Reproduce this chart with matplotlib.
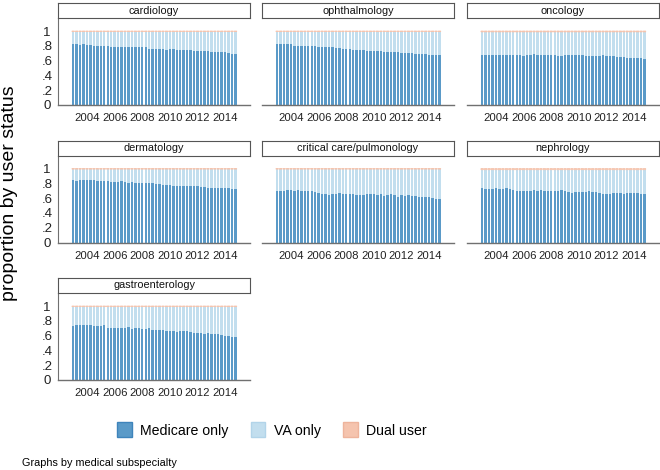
import matplotlib
matplotlib.use("Agg")
import matplotlib.pyplot as plt
from matplotlib.patches import Patch
import numpy as np

plt.rcParams['font.family'] = ['Liberation Sans', 'DejaVu Sans']

# quarters 2003q1 .. 2014q4
years = list(range(2003, 2015))
quarters = [1, 2, 3, 4]

panels = ['cardiology', 'ophthalmology', 'oncology', 'dermatology',
          'critical care/pulmonology', 'nephrology', 'gastroenterology']

# share of Medicare-only users per quarter
cardiology = [.82, .82, .81, .82, .81, .81, .80, .80, .80, .80, .80, .78,
              .79, .79, .79, .78, .79, .79, .78, .78, .79, .78, .76, .76,
              .76, .76, .755, .75, .76, .755, .75, .75, .745, .745, .74, .73,
              .73, .725, .725, .725, .72, .72, .72, .72, .715, .70, .695, .695]
ophthalmology = [.82, .82, .83, .83, .82, .80, .80, .80, .80, .80, .80, .80,
                 .79, .78, .78, .78, .78, .77, .77, .76, .76, .755, .75, .75,
                 .745, .74, .735, .73, .73, .725, .725, .72, .72, .71, .71, .71,
                 .70, .70, .70, .70, .695, .69, .69, .685, .68, .675, .675, .67]
oncology = [.67, .68, .67, .68, .68, .67, .68, .68, .68, .68, .67, .67,
            .66, .68, .68, .69, .68, .68, .68, .67, .67, .67, .66, .66,
            .68, .67, .67, .67, .67, .67, .66, .66, .66, .66, .66, .67,
            .66, .66, .66, .65, .65, .65, .64, .64, .64, .63, .63, .62]
dermatology = [.84, .83, .84, .84, .85, .84, .84, .83, .83, .83, .83, .82,
               .82, .82, .83, .82, .81, .82, .81, .81, .81, .81, .80, .80,
               .79, .79, .78, .78, .78, .77, .77, .77, .77, .77, .76, .76,
               .76, .755, .75, .74, .74, .74, .735, .735, .73, .73, .72, .72]
critical_care = [.70, .70, .69, .71, .71, .70, .71, .70, .70, .69, .69, .68,
                 .67, .66, .65, .64, .66, .66, .67, .66, .66, .66, .66, .64,
                 .64, .64, .65, .65, .65, .64, .65, .63, .64, .65, .64, .62,
                 .64, .63, .64, .63, .63, .61, .62, .61, .61, .60, .59, .585]
nephrology = [.73, .72, .72, .72, .73, .72, .72, .74, .72, .71, .70, .70,
              .69, .69, .70, .71, .70, .71, .70, .70, .70, .70, .69, .71,
              .70, .68, .67, .68, .68, .68, .68, .69, .68, .68, .67, .66,
              .66, .66, .67, .67, .67, .66, .67, .67, .67, .67, .66, .66]
gastroenterology = [.73, .74, .74, .75, .74, .74, .73, .73, .73, .74, .70, .70,
                    .70, .70, .70, .70, .71, .69, .70, .70, .69, .69, .70, .67,
                    .68, .68, .68, .66, .66, .66, .65, .66, .66, .66, .65, .64,
                    .64, .63, .62, .63, .62, .62, .62, .61, .60, .60, .58, .58]

medicare = [cardiology, ophthalmology, oncology, dermatology,
            critical_care, nephrology, gastroenterology]
# dual-user share (thin band at top), per panel
dual = [0.008, 0.008, 0.012, 0.008, 0.008, 0.016, 0.008]

year_ticks = [2004, 2006, 2008, 2010, 2012, 2014]
y_ticks = [0, .2, .4, .6, .8, 1]
y_ticklabels = ['0', '.2', '.4', '.6', '.8', '1']

c_med, e_med = '#5a9ac8', '#3e84bb'
c_va, e_va = '#c2deee', '#b2d4e9'
c_dual, e_dual = '#f5c4ae', '#eeb49c'

W, H = 660, 470
fig = plt.figure(figsize=(6.6, 4.7), dpi=100)

col_x = [58, 262, 467]
col_w = 192
row_top = [3, 140.5, 278]
strip_h = 15
plot_h = 87

x = np.array([y + (q - 1) / 4 for y in years for q in quarters])
bw = 0.175

for i, name in enumerate(panels):
    r, c = divmod(i, 3)
    x0 = col_x[c]
    top = row_top[r] + strip_h
    ax = fig.add_axes([x0 / W, 1 - (top + plot_h) / H, col_w / W, plot_h / H])
    med = np.array(medicare[i])
    d = dual[i]
    va = 1 - med - d
    ax.bar(x, med, width=bw, color=c_med, linewidth=0, antialiased=False)
    ax.bar(x, va, width=bw, bottom=med, color=c_va, linewidth=0, antialiased=False)
    ax.bar(x, d, width=bw, bottom=med + va, color=c_dual, linewidth=0.6,
           edgecolor=c_dual, snap=False)
    ax.set_xlim(2001.9, 2015.8)
    ax.set_ylim(0, 1.176)
    ax.set_xticks(year_ticks)
    ax.set_xticklabels([str(t) for t in year_ticks], fontsize=8.2)
    ax.tick_params(axis='x', length=0, pad=6, colors='#222222')
    for s in ['top', 'right']:
        ax.spines[s].set_visible(False)
    ax.spines['bottom'].set_color('#707070')
    ax.spines['bottom'].set_linewidth(1.0)
    if c == 0:
        ax.set_yticks(y_ticks)
        ax.set_yticklabels(y_ticklabels, fontsize=9.5, ha='center')
        ax.tick_params(axis='y', length=0, pad=8, colors='#222222')
        ax.spines['left'].set_color('#707070')
        ax.spines['left'].set_linewidth(0.8)
    else:
        ax.set_yticks([])
        ax.spines['left'].set_visible(False)

    # strip title box
    sax = fig.add_axes([x0 / W, 1 - top / H, col_w / W, strip_h / H])
    sax.set_xticks([])
    sax.set_yticks([])
    for s in sax.spines.values():
        s.set_color('#555555')
        s.set_linewidth(0.8)
    sax.text(0.5, 0.5, name, ha='center', va='center', fontsize=7.8,
             color='#111111', transform=sax.transAxes)

fig.text(10 / W, 1 - 193 / H, 'proportion by user status', rotation=90,
         ha='center', va='center', fontsize=14)

handles = [Patch(facecolor=c_med, edgecolor=e_med),
           Patch(facecolor=c_va, edgecolor=e_va),
           Patch(facecolor=c_dual, edgecolor=e_dual)]
fig.legend(handles, ['Medicare only', 'VA only', 'Dual user'], ncol=3,
           loc='center', bbox_to_anchor=(272 / W, 1 - 430 / H), frameon=False,
           fontsize=10.2, handlelength=1.0, handleheight=1.2, columnspacing=1.6,
           handletextpad=0.6)

fig.text(22 / W, 1 - 463 / H, 'Graphs by medical subspecialty', ha='left',
         va='center', fontsize=7.8)

fig.savefig('out.png', dpi=100)
